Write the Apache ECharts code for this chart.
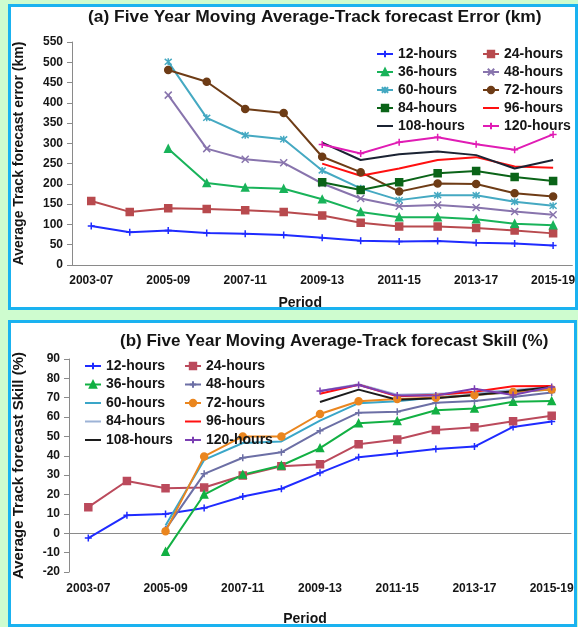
<!DOCTYPE html>
<html>
<head>
<meta charset="utf-8">
<script src="https://cdn.jsdelivr.net/npm/echarts@6/dist/echarts.min.js"></script>
<style>
  html, body { margin: 0; padding: 0; background: #cefccf; }
  #chart { width: 578px; height: 627px; }
</style>
</head>
<body>
<div id="chart"></div>
<script>
// Five-year moving windows
const periods = ['2003-07', '2004-08', '2005-09', '2006-10', '2007-11', '2008-12', '2009-13',
                 '2010-14', '2011-15', '2012-16', '2013-17', '2014-18', '2015-19'];
const leadTimes = ['12-hours', '24-hours', '36-hours', '48-hours', '60-hours',
                   '72-hours', '84-hours', '96-hours', '108-hours', '120-hours'];

// Track forecast error (km)
const err12  = [96, 81, 85, 79, 77, 74, 67, 60, 58, 59, 55, 53, 48];
const err24  = [158, 131, 140, 138, 135, 131, 122, 104, 95, 95, 91, 85, 78];
const err36  = [null, null, 287, 202, 191, 188, 162, 131, 118, 118, 113, 102, 98];
const err48  = [null, null, 419, 287, 261, 252, 201, 164, 145, 148, 142, 132, 124];
const err60  = [null, null, 501, 363, 320, 310, 233, 189, 160, 172, 172, 156, 146];
const err72  = [null, null, 481, 452, 385, 375, 267, 229, 181, 201, 200, 177, 169];
const err84  = [null, null, null, null, null, null, 204, 185, 204, 226, 232, 217, 207];
const err96  = [null, null, null, null, null, null, 250, 220, 238, 259, 266, 243, 240];
const err108 = [null, null, null, null, null, null, 302, 259, 273, 280, 271, 238, 259];
const err120 = [null, null, null, null, null, null, 297, 275, 303, 315, 298, 284, 322];

// Track forecast skill (%)
const skill12  = [-2.5, 9.3, 9.9, 13, 19, 23, 31.2, 39.2, 41.3, 43.5, 44.8, 54.9, 57.7];
const skill24  = [13.5, 27, 23.2, 23.6, 29.8, 34.6, 35.7, 46, 48.4, 53.3, 54.7, 57.9, 60.7];
const skill36  = [null, null, -9.5, 20, 30.3, 35, 44, 56.8, 58, 63.5, 64.4, 67.9, 68.3];
const skill48  = [null, null, 2, 30.7, 39, 41.8, 52.9, 62.3, 62.8, 67.4, 68.3, 70.4, 72.7];
const skill60  = [null, null, 4, 37.9, 46.6, 47.4, 58.2, 67.2, 68.2, 70.3, 71.4, 72.8, 74.2];
const skill72  = [null, null, 1, 39.7, 50, 50, 61.6, 68.2, 69.3, 70, 71.4, 73, 74.2];
const skill84  = [null, null, null, null, null, null, 73.5, 77, 71.5, 72, 72.5, 74, 75.5];
const skill96  = [null, null, null, null, null, null, 72.1, 76.7, 70.7, 71.4, 73.1, 75.9, 76];
const skill108 = [null, null, null, null, null, null, 67.8, 74.2, 69, 69.7, 71.4, 73.4, 75.6];
const skill120 = [null, null, null, null, null, null, 73.5, 76.6, 71.1, 71.1, 74.6, 71.4, 75.6];

const errorData = [err12, err24, err36, err48, err60, err72, err84, err96, err108, err120];
const skillData = [skill12, skill24, skill36, skill48, skill60, skill72, skill84, skill96, skill108, skill120];

// Marker shapes
const PLUS = 'path://M0,5L10,5M5,0L5,10';
const CROSS = 'path://M0,0L10,10M0,10L10,0';
const STAR = 'path://M0,0L10,10M0,10L10,0M5,-1L5,11';

const errorColors = ['#1f2bff', '#b84a4e', '#19b35a', '#8874ad', '#45a9c2',
                     '#6e3c16', '#0b6418', '#ff1010', '#1b2333', '#e01cb4'];
const errorSymbols = [PLUS, 'rect', 'triangle', CROSS, STAR, 'circle', 'rect', 'none', 'none', PLUS];
const errorSizes = [7, 7, 7, 7, 7, 7, 7, 0, 0, 7];

const skillColors = ['#1f2bff', '#bb4a5c', '#12b043', '#6c6fa5', '#3aa6c8',
                     '#ea861f', '#9db3d6', '#ff1010', '#1c1c1c', '#7b3fb3'];
const skillSymbols = [PLUS, 'rect', 'triangle', PLUS, 'none', 'circle', 'none', 'none', 'none', PLUS];
const skillSizes = [7, 7, 7, 7, 0, 7, 0, 0, 0, 7];

const FONT = '"Liberation Sans", Arial, sans-serif';
const TXT = '#151515';
const AXIS = '#8a8a8a';
const SKILL_TAG = ' (skill)';

function makeSeries(dataSets, colors, symbols, sizes, axisIdx, tag) {
  return dataSets.map((d, i) => ({
    name: leadTimes[i] + tag,
    type: 'line',
    xAxisIndex: axisIdx,
    yAxisIndex: axisIdx,
    data: d,
    symbol: symbols[i],
    symbolSize: sizes[i],
    showSymbol: symbols[i] !== 'none',
    lineStyle: { color: colors[i], width: 2 },
    itemStyle: { color: colors[i], borderColor: colors[i], borderWidth: 1.5 },
    emphasis: { disabled: true },
    connectNulls: false
  }));
}

function xAxisFor(gridIndex, nameGap, namePadRight, labelMargin) {
  return {
    type: 'category',
    gridIndex: gridIndex,
    data: periods,
    boundaryGap: true,
    name: 'Period',
    nameLocation: 'middle',
    nameGap: nameGap,
    nameTextStyle: { fontFamily: FONT, fontWeight: 'bold', fontSize: 14, color: TXT,
                     padding: [0, namePadRight, 0, 0] },
    axisLine: { lineStyle: { color: AXIS, width: 1 } },
    axisTick: { interval: 0, length: 5, lineStyle: { color: AXIS } },
    axisLabel: { interval: 1, margin: labelMargin, fontFamily: FONT, fontWeight: 'bold', fontSize: 12,
                 color: TXT, hideOverlap: false },
    splitLine: { show: false }
  };
}

function yAxisFor(gridIndex, min, max, interval, name, nameSize, nameGap) {
  return {
    type: 'value',
    gridIndex: gridIndex,
    min: min, max: max, interval: interval,
    name: name,
    nameLocation: 'middle',
    nameGap: nameGap,
    nameTextStyle: { fontFamily: FONT, fontWeight: 'bold', fontSize: nameSize, color: TXT },
    axisLine: { show: true, lineStyle: { color: AXIS, width: 1 } },
    axisTick: { show: true, length: 5, lineStyle: { color: AXIS } },
    axisLabel: { margin: 9, fontFamily: FONT, fontWeight: 'bold', fontSize: 12, color: TXT },
    splitLine: { show: false }
  };
}

// One legend column; series drawn without markers get a bare line as their key
function legendCol(indices, symbols, tag, left, top, gap) {
  return {
    data: indices.map(i => {
      const item = { name: leadTimes[i] + tag };
      if (symbols[i] === 'none') item.itemStyle = { opacity: 0 };
      return item;
    }),
    formatter: name => name.replace(tag, ''),
    orient: 'vertical',
    left: left,
    top: top,
    padding: 0,
    itemWidth: 16,
    itemHeight: 8,
    itemGap: gap,
    selectedMode: false,
    textStyle: { fontFamily: FONT, fontWeight: 'bold', fontSize: 14, color: TXT }
  };
}

const chart = echarts.init(document.getElementById('chart'), null, { renderer: 'canvas' });

chart.setOption({
  animation: false,
  backgroundColor: '#cefccf',
  graphic: {
    elements: [
      { type: 'rect', z: -10, shape: { x: 9.5, y: 5.5, width: 567, height: 303 },
        style: { fill: '#ffffff', stroke: '#1ab2f0', lineWidth: 3 } },
      { type: 'rect', z: -10, shape: { x: 9.5, y: 321.5, width: 566, height: 304 },
        style: { fill: '#ffffff', stroke: '#1ab2f0', lineWidth: 3 } }
    ]
  },
  title: [
    { text: '(a) Five Year Moving Average-Track forecast Error (km)', left: 88, top: 9, padding: 0,
      textStyle: { fontFamily: FONT, fontWeight: 'bold', fontSize: 17.4, color: TXT } },
    { text: '(b) Five Year Moving Average-Track forecast Skill (%)', left: 120, top: 333, padding: 0,
      textStyle: { fontFamily: FONT, fontWeight: 'bold', fontSize: 17, color: TXT } }
  ],
  legend: [
    legendCol([0, 2, 4, 6, 8], errorSymbols, '', 376, 47, 4),
    legendCol([1, 3, 5, 7, 9], errorSymbols, '', 482, 47, 4),
    legendCol([0, 2, 4, 6, 8], skillSymbols, SKILL_TAG, 84, 359, 4.5),
    legendCol([1, 3, 5, 7, 9], skillSymbols, SKILL_TAG, 184, 359, 4.5)
  ],
  grid: [
    { left: 72, top: 42, width: 504, height: 223 },
    { left: 69, top: 359, width: 502, height: 263 }
  ],
  xAxis: [
    xAxisFor(0, 31, 44, 10),
    xAxisFor(1, 40, 30, 11)
  ],
  yAxis: [
    yAxisFor(0, 0, 550, 50, 'Average Track forecast error (km)', 14, 46),
    yAxisFor(1, -20, 90, 10, 'Average Track forecast Skill (%)', 15, 43)
  ],
  series: [
    ...makeSeries(errorData, errorColors, errorSymbols, errorSizes, 0, ''),
    ...makeSeries(skillData, skillColors, skillSymbols, skillSizes, 1, SKILL_TAG)
  ]
});
</script>
</body>
</html>
